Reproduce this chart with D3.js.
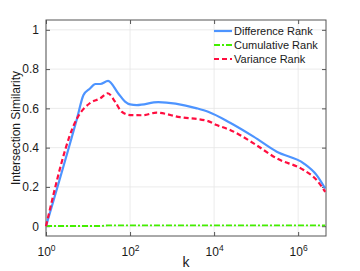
<!DOCTYPE html>
<html>
<head>
<meta charset="utf-8">
<script src="https://cdn.jsdelivr.net/npm/d3@7"></script>
<style>
  body { margin: 0; background: #fff; }
  text { font-family: "Liberation Sans", Arial, sans-serif; fill: #1a1a1a; }
</style>
</head>
<body>
<svg id="chart"></svg>
<script>
// values
const diffK    = [1, 5.5, 7.8, 11, 15, 19.5, 30, 52, 76, 100, 145, 470, 3900, 7200, 24000, 87000, 310000, 1350000, 2750000, 4400000];
const diffVals = [0, 0.55, 0.668, 0.70, 0.724, 0.724, 0.74, 0.677, 0.634, 0.62, 0.617, 0.632, 0.60, 0.583, 0.527, 0.456, 0.379, 0.32, 0.26, 0.192];

const varK    = [1, 5.5, 11, 19.5, 29.5, 44, 63, 100, 200, 427, 1550, 6800, 11500, 24000, 87000, 310000, 1350000, 2750000, 4400000];
const varVals = [0, 0.55, 0.626, 0.651, 0.677, 0.634, 0.583, 0.566, 0.565, 0.578, 0.555, 0.537, 0.515, 0.49, 0.422, 0.345, 0.286, 0.235, 0.175];

const cumK    = [1, 20, 30, 4400000];
const cumVals = [0.001, 0.001, 0.004, 0.004];

const yTicks = [0, 0.2, 0.4, 0.6, 0.8, 1];
const xTickExps = [0, 2, 4, 6];
const seriesNames = ["Difference Rank", "Cumulative Rank", "Variance Rank"];

var svgWidth = 360, svgHeight = 271;
var margin = { top: 20, right: 34, bottom: 35, left: 46 };
var width = svgWidth - margin.left - margin.right;
var height = svgHeight - margin.top - margin.bottom;

var svg = d3.select("#chart")
    .attr("width", svgWidth)
    .attr("height", svgHeight);

var g = svg.append("g")
    .attr("transform", "translate(" + margin.left + "," + margin.top + ")");

var x = d3.scaleLog().domain([1, 4.6e6]).range([0, width]);
var y = d3.scaleLinear().domain([-0.05, 1.05]).range([height, 0]);

// grid
g.selectAll(".gx").data(xTickExps).enter().append("line")
    .attr("x1", d => x(Math.pow(10, d))).attr("x2", d => x(Math.pow(10, d)))
    .attr("y1", 0).attr("y2", height)
    .attr("stroke", "#e6e6e6").attr("stroke-width", 0.8);
g.selectAll(".gy").data(yTicks).enter().append("line")
    .attr("x1", 0).attr("x2", width)
    .attr("y1", d => y(d)).attr("y2", d => y(d))
    .attr("stroke", "#e6e6e6").attr("stroke-width", 0.8);

// axes, matlab style ticks inside
var tickLen = 4;
var yAxis = g.append("g")
    .call(d3.axisLeft(y).tickValues(yTicks).tickSizeInner(-tickLen).tickSizeOuter(0)
        .tickPadding(7).tickFormat(d3.format("")));
var yAxisR = g.append("g").attr("transform", "translate(" + width + ",0)")
    .call(d3.axisRight(y).tickValues(yTicks).tickSizeInner(-tickLen).tickSizeOuter(0).tickFormat(""));
var xAxis = g.append("g").attr("transform", "translate(0," + height + ")")
    .call(d3.axisBottom(x).tickValues(xTickExps.map(e => Math.pow(10, e)))
        .tickSizeInner(-tickLen).tickSizeOuter(0).tickPadding(9).tickFormat(""));
var xAxisT = g.append("g")
    .call(d3.axisTop(x).tickValues(xTickExps.map(e => Math.pow(10, e)))
        .tickSizeInner(-tickLen).tickSizeOuter(0).tickFormat(""));

[yAxis, yAxisR, xAxis, xAxisT].forEach(function(a) {
    a.select(".domain").remove();
    a.selectAll("line").attr("stroke", "#555");
});
yAxis.selectAll("text").style("font-size", "12px").attr("fill", "#1a1a1a")
    .style("font-family", "Liberation Sans, Arial, sans-serif");

// 10^n labels
xAxis.selectAll(".tick").each(function(d, i) {
    var t = d3.select(this).append("text")
        .attr("y", 20).attr("text-anchor", "middle")
        .style("font-size", "12px");
    t.append("tspan").text("10");
    t.append("tspan").attr("dy", -5).style("font-size", "8.5px").text(xTickExps[i]);
});

// box
g.append("rect").attr("width", width).attr("height", height)
    .attr("fill", "none").attr("stroke", "#555").attr("stroke-width", 1);

// lines
function makeLine(ks, vals) {
    return d3.line().curve(d3.curveMonotoneX)
        .x((d, i) => x(ks[i])).y((d, i) => y(vals[i]))(vals);
}

g.append("path").attr("d", makeLine(cumK, cumVals))
    .attr("fill", "none").attr("stroke", "#44ee00").attr("stroke-width", 1.8)
    .attr("stroke-dasharray", "6,2,2,2");
g.append("path").attr("d", makeLine(diffK, diffVals))
    .attr("fill", "none").attr("stroke", "#4d94ff").attr("stroke-width", 2.2)
    .attr("stroke-linejoin", "round");
g.append("path").attr("d", makeLine(varK, varVals))
    .attr("fill", "none").attr("stroke", "#ff0d3f").attr("stroke-width", 2.2)
    .attr("stroke-dasharray", "5,3");

// legend
var legColors = ["#4d94ff", "#44ee00", "#ff0d3f"];
var legDash = [null, "6,2,2,2", "5,3"];
var leg = g.append("g").attr("transform", "translate(168,11)");
seriesNames.forEach(function(name, i) {
    var row = leg.append("g").attr("transform", "translate(0," + (i * 14) + ")");
    row.append("line").attr("x1", 0).attr("x2", 18).attr("y1", 0).attr("y2", 0)
        .attr("stroke", legColors[i]).attr("stroke-width", i === 1 ? 1.8 : 2.2)
        .attr("stroke-dasharray", legDash[i]);
    row.append("text").attr("x", 20).attr("dy", "0.35em")
        .style("font-size", "11px").text(name);
});

// axis labels
svg.append("text")
    .attr("transform", "translate(20," + (margin.top + height / 2) + ") rotate(-90)")
    .attr("text-anchor", "middle").style("font-size", "12px")
    .text("Intersection Similarity");
svg.append("text")
    .attr("x", margin.left + width / 2).attr("y", 267)
    .attr("text-anchor", "middle").style("font-size", "14px")
    .text("k");
</script>
</body>
</html>
